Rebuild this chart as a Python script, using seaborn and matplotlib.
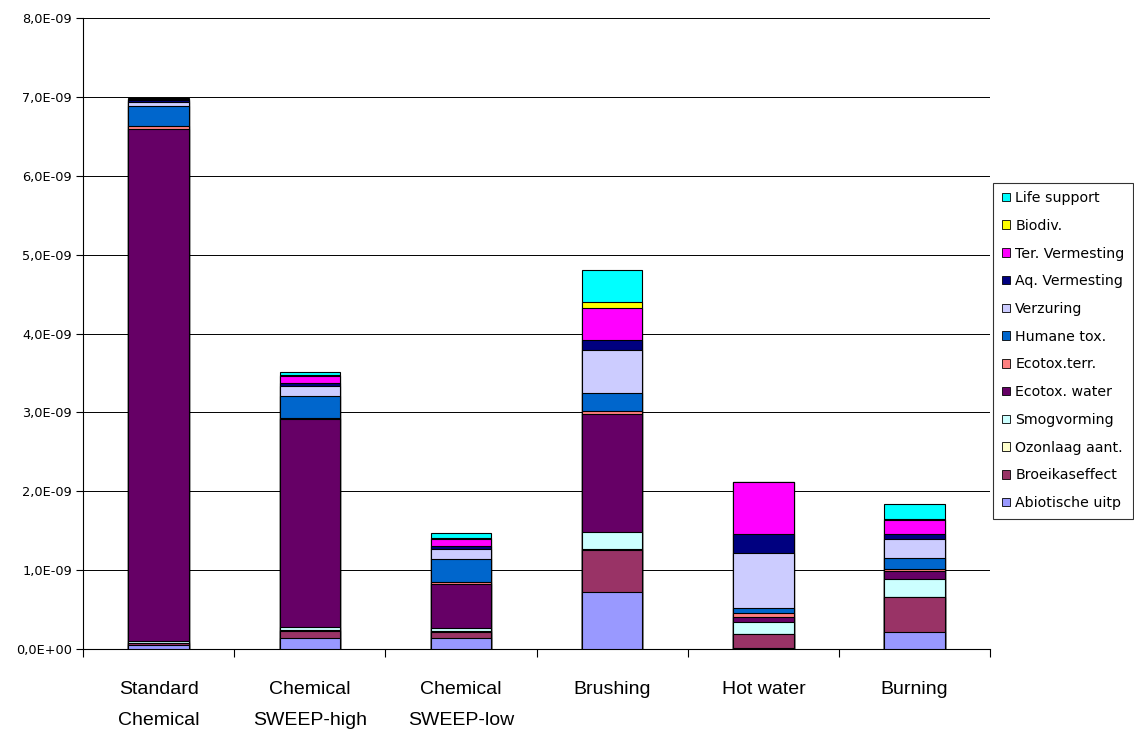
import numpy as np
import pandas as pd
import matplotlib
matplotlib.use("Agg")
import matplotlib.pyplot as plt
from matplotlib.patches import Patch
from matplotlib.ticker import FuncFormatter
import seaborn as sns

# Scenarios (x categories)
categories = ["Standard\nChemical", "Chemical\nSWEEP-high", "Chemical\nSWEEP-low",
              "Brushing", "Hot water", "Burning"]

# Impact categories, bottom to top of the stack
impacts = ["Abiotische uitp", "Broeikaseffect", "Ozonlaag aant.", "Smogvorming",
           "Ecotox. water", "Ecotox.terr.", "Humane tox.", "Verzuring",
           "Aq. Vermesting", "Ter. Vermesting", "Biodiv.", "Life support"]

# Values in units of 1E-09
abiotische = [0.045, 0.14, 0.135, 0.72, 0.01, 0.215]
broeikas = [0.03, 0.09, 0.08, 0.53, 0.18, 0.445]
ozonlaag = [0.005, 0.01, 0.01, 0.02, 0.0, 0.005]
smog = [0.02, 0.04, 0.04, 0.21, 0.15, 0.22]
ecotox_water = [6.49, 2.64, 0.56, 1.50, 0.06, 0.105]
ecotox_terr = [0.04, 0.01, 0.025, 0.04, 0.055, 0.03]
humane_tox = [0.26, 0.275, 0.29, 0.225, 0.06, 0.13]
verzuring = [0.045, 0.127, 0.13, 0.55, 0.70, 0.24]
aq_vermesting = [0.02, 0.035, 0.035, 0.12, 0.245, 0.065]
ter_vermesting = [0.01, 0.09, 0.09, 0.405, 0.655, 0.185]
biodiv = [0.005, 0.015, 0.01, 0.075, 0.0, 0.005]
life_support = [0.01, 0.045, 0.06, 0.41, 0.0, 0.195]

series = [abiotische, broeikas, ozonlaag, smog, ecotox_water, ecotox_terr,
          humane_tox, verzuring, aq_vermesting, ter_vermesting, biodiv, life_support]

colors = ["#9999FF", "#993366", "#FFFFCC", "#CCFFFF", "#660066", "#FF8080",
          "#0066CC", "#CCCCFF", "#000080", "#FF00FF", "#FFFF00", "#00FFFF"]

plt.rcParams["font.family"] = ["DejaVu Sans"]

fig = plt.figure(figsize=(11.34, 7.33), dpi=100)
ax = fig.add_axes([0.0732, 0.1146, 0.8000, 0.8608])

# Stacked bars: draw cumulative totals from the top layer down so each
# lower layer covers the one above it.
vals = np.array(series) * 1e-9
cum = np.cumsum(vals, axis=0)
for k in range(len(impacts) - 1, -1, -1):
    df = pd.DataFrame({"scenario": categories, "value": cum[k]})
    sns.barplot(data=df, x="scenario", y="value", color=colors[k], width=0.4,
                edgecolor="black", linewidth=0.8, saturation=1, ax=ax,
                zorder=3)

ax.set_xlim(-0.5, len(categories) - 0.5)
ax.set_ylim(0, 8e-9)
ax.set_yticks(np.arange(0, 8.01e-9, 1e-9))


def fmt(v, pos):
    s = "%.1E" % v
    return s.replace(".", ",")


ax.yaxis.set_major_formatter(FuncFormatter(fmt))
ax.yaxis.grid(True, color="black", linewidth=0.7, zorder=0)
ax.set_axisbelow(True)
ax.tick_params(axis="y", labelsize=9.3, length=5, width=0.8, direction="out",
               pad=3, colors="black")

ax.set_xticks(range(len(categories)))
ax.set_xticklabels(categories, fontsize=14,
                   family=["Liberation Sans", "DejaVu Sans"],
                   linespacing=2.1)
ax.tick_params(axis="x", which="major", length=0, pad=23)
ax.set_xticks(np.arange(-0.5, len(categories), 1.0), minor=True)
ax.tick_params(axis="x", which="minor", length=6, width=0.8, direction="out")
ax.set_xlabel("")
ax.set_ylabel("")

for side in ["top", "right"]:
    ax.spines[side].set_visible(False)
for side in ["left", "bottom"]:
    ax.spines[side].set_color("black")
    ax.spines[side].set_linewidth(0.8)

handles = [Patch(facecolor=c, edgecolor="black", linewidth=0.6)
           for c in colors][::-1]
leg = fig.legend(handles, impacts[::-1], loc="upper left",
                 bbox_to_anchor=(0.876, 0.751), fontsize=10.2,
                 frameon=True, fancybox=False, edgecolor="black",
                 labelspacing=0.97, handlelength=0.55, handleheight=0.55,
                 handletextpad=0.4, borderpad=0.6, borderaxespad=0)
leg.get_frame().set_linewidth(0.8)

fig.savefig("out.png", dpi=100, facecolor="white")
